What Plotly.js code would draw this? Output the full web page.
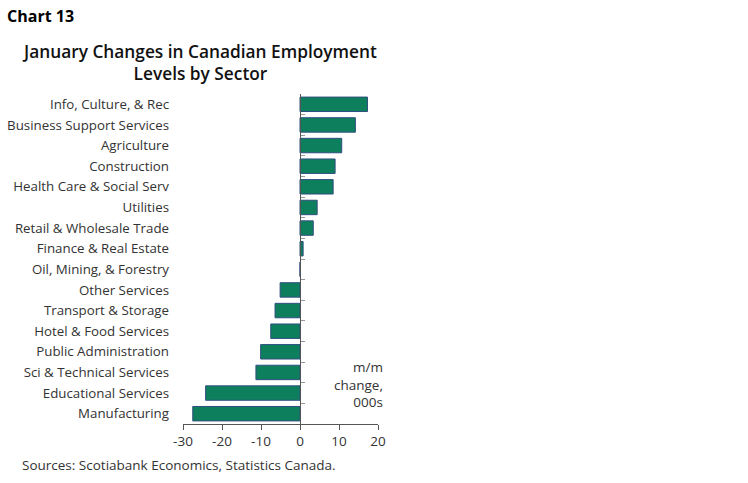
<!DOCTYPE html>
<html>
<head>
<meta charset="utf-8">
<script src="https://cdn.plot.ly/plotly-3.0.1.min.js"></script>
<style>
	html, body { margin: 0; padding: 0; background: #fff; }
	#chart { width: 748px; height: 483px; }
</style>
</head>
<body>
<div id="chart"></div>
<script>
// sectors, top to bottom
const sectors = [
	"Info, Culture, & Rec",
	"Business Support Services",
	"Agriculture",
	"Construction",
	"Health Care & Social Serv",
	"Utilities",
	"Retail & Wholesale Trade",
	"Finance & Real Estate",
	"Oil, Mining, & Forestry",
	"Other Services",
	"Transport & Storage",
	"Hotel & Food Services",
	"Public Administration",
	"Sci & Technical Services",
	"Educational Services",
	"Manufacturing",
];

// m/m change, thousands
const changes = [17.3, 14.2, 10.7, 9.0, 8.5, 4.4, 3.4, 0.8, 0.0, -5.1, -6.4, -7.5, -10.1, -11.3, -24.2, -27.5];

const xTicks = [-30, -20, -10, 0, 10, 20];

const txtFont = "Open Sans, Noto Sans, sans-serif";

const traces = [
	{
		type: "bar",
		orientation: "h",
		x: changes,
		y: sectors,
		marker: { color: "#0e7f5c", line: { color: "#2f4f7f", width: 1 } },
		hoverinfo: "x+y",
	},
	{
		// just to give the zero axis its categories
		type: "scatter",
		mode: "markers",
		x: changes.map(() => 0),
		y: sectors,
		yaxis: "y2",
		marker: { opacity: 0 },
		hoverinfo: "skip",
		showlegend: false,
	},
];

const layout = {
	width: 748,
	height: 483,
	margin: { l: 183, r: 370, t: 94, b: 59 },
	paper_bgcolor: "#fff",
	plot_bgcolor: "#fff",
	showlegend: false,
	bargap: 0.3,
	font: { family: txtFont, color: "#333", size: 13.3 },
	xaxis: {
		range: [-30, 20],
		tickvals: xTicks,
		ticktext: xTicks.map(String),
		showgrid: false,
		zeroline: false,
		showline: true,
		linecolor: "#555",
		linewidth: 1,
		ticks: "outside",
		ticklen: 5,
		tickcolor: "#555",
		tickfont: { size: 13.5, color: "#333" },
		fixedrange: true,
	},
	yaxis: {
		type: "category",
		categoryorder: "array",
		categoryarray: sectors,
		range: [sectors.length - 0.5, -0.5],
		showgrid: false,
		zeroline: false,
		showline: false,
		ticks: "",
		ticklabelstandoff: 13,
		tickfont: { size: 13.3, color: "#333" },
		fixedrange: true,
	},
	yaxis2: {
		type: "category",
		overlaying: "y",
		anchor: "free",
		position: 0.6,
		categoryorder: "array",
		categoryarray: sectors,
		range: [sectors.length - 0.5, -0.5],
		showticklabels: false,
		showgrid: false,
		zeroline: false,
		showline: true,
		linecolor: "#555",
		linewidth: 1,
		ticks: "inside",
		tickson: "boundaries",
		ticklen: 4,
		tickcolor: "#999",
		fixedrange: true,
	},
	annotations: [
		{
			text: "<b>Chart 13</b>",
			xref: "paper", yref: "paper",
			x: -0.913, y: 1.236,
			xanchor: "left", yanchor: "middle",
			showarrow: false,
			font: { family: txtFont, size: 16, color: "#000" },
		},
		{
			text: "January Changes in Canadian Employment<br>Levels by Sector",
			xref: "paper", yref: "paper",
			x: 0.087, y: 1.094,
			xanchor: "center", yanchor: "middle",
			align: "center",
			showarrow: false,
			font: { family: txtFont, size: 17.3, color: "#111", weight: 600 },
		},
		{
			text: "m/m<br>change,<br>000s",
			xref: "paper", yref: "paper",
			x: 1.036, y: 0.12,
			xanchor: "right", yanchor: "middle",
			align: "right",
			showarrow: false,
			font: { family: txtFont, size: 13.5, color: "#333" },
		},
		{
			text: "Sources: Scotiabank Economics, Statistics Canada.",
			xref: "paper", yref: "paper",
			x: -0.836, y: -0.124,
			xanchor: "left", yanchor: "middle",
			showarrow: false,
			font: { family: txtFont, size: 13.5, color: "#333" },
		},
	],
};

Plotly.newPlot("chart", traces, layout, { displayModeBar: false, staticPlot: true });
</script>
</body>
</html>
